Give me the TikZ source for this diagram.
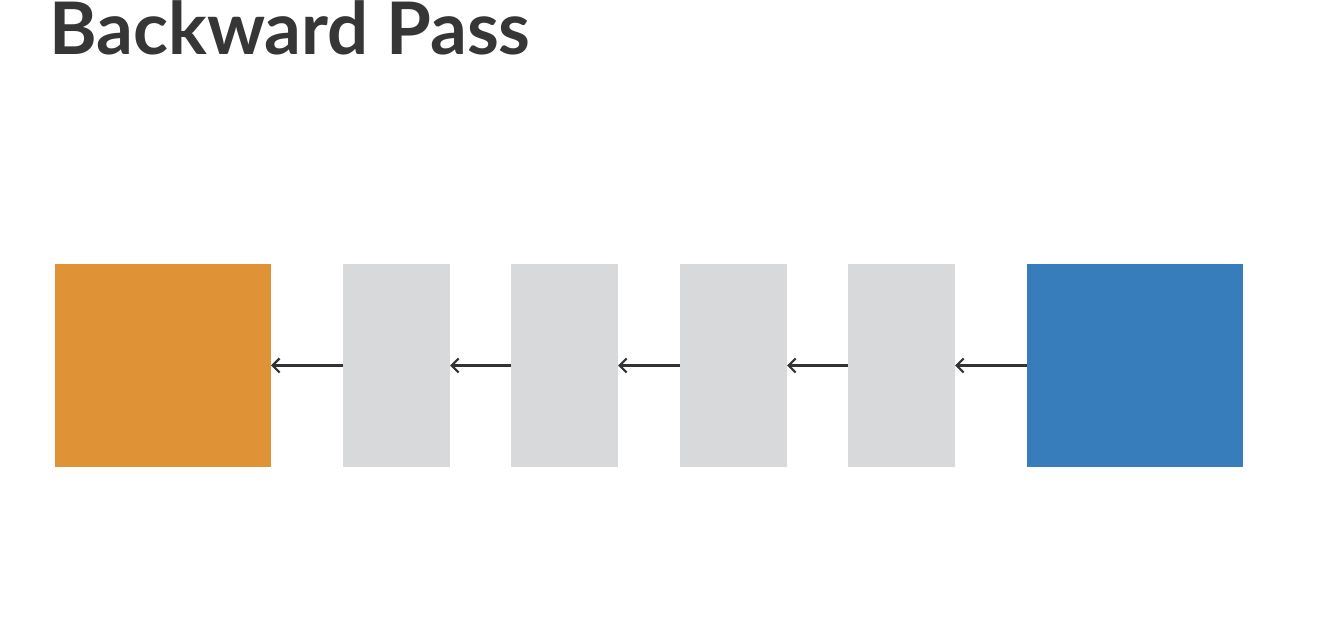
\documentclass[tikz,border=0pt]{standalone}
\usepackage{fontspec}
\setmainfont{Lato}
\usetikzlibrary{arrows.meta}
\definecolor{orangebox}{HTML}{E09236}
\definecolor{bluebox}{HTML}{377DBC}
\definecolor{graybox}{HTML}{D8D9DB}
\definecolor{titlegray}{HTML}{363636}
\definecolor{arrowgray}{HTML}{333333}
\begin{document}
\begin{tikzpicture}[x=1pt,y=1pt,
  blk/.style={draw=none,inner sep=0pt,outer sep=0pt,minimum height=203pt},
  bigblk/.style={blk,minimum width=216pt},
  thinblk/.style={blk,fill=graybox,minimum width=107pt},
  back/.style={draw=arrowgray,line width=2.2pt,-{Straight Barb[length=7pt,width=14pt,line width=2.2pt]}}]
\useasboundingbox (0,0) rectangle (1343,639);
\fill[white] (0,0) rectangle (1343,639);
\node[anchor=base west,inner sep=0pt,text=titlegray,font=\fontsize{72.5}{80}\selectfont\bfseries] (title) at (49,584) {Backward Pass};
\node[bigblk,fill=orangebox,anchor=north west] (out) at (55,375) {};
\node[thinblk,anchor=north west] (g1) at (343,375) {};
\node[thinblk,anchor=north west] (g2) at (511,375) {};
\node[thinblk,anchor=north west] (g3) at (680,375) {};
\node[thinblk,anchor=north west] (g4) at (848,375) {};
\node[bigblk,fill=bluebox,anchor=north west] (in) at (1027,375) {};
\draw[back] (g1.west) -- (out.east);
\draw[back] (g2.west) -- (g1.east);
\draw[back] (g3.west) -- (g2.east);
\draw[back] (g4.west) -- (g3.east);
\draw[back] (in.west) -- (g4.east);
\end{tikzpicture}
\end{document}
